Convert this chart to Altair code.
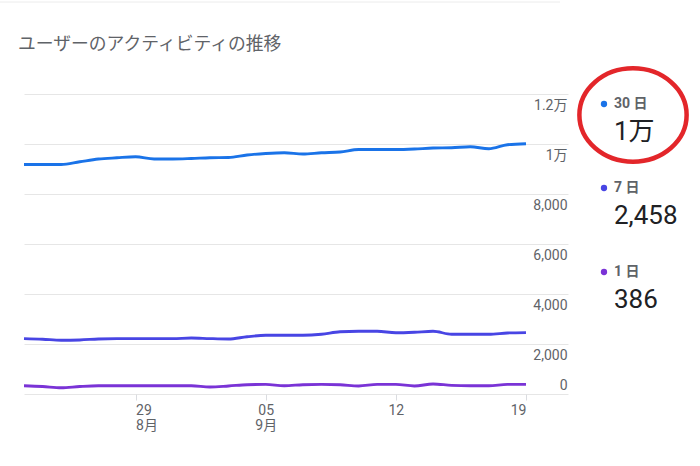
import altair as alt
import pandas as pd

# ---- data ----
dates = (["08-%02d" % d for d in range(23, 32)] + ["09-%02d" % d for d in range(1, 20)])
users_30d = [9180, 9180, 9180, 9290, 9400, 9450, 9490, 9400, 9400, 9420, 9450, 9460, 9560, 9620,
             9650, 9600, 9650, 9680, 9780, 9780, 9780, 9800, 9840, 9850, 9890, 9810, 9970, 10010]
users_7d = [2215, 2190, 2150, 2160, 2200, 2215, 2215, 2215, 2215, 2240, 2215, 2200, 2290, 2350,
            2350, 2350, 2390, 2490, 2510, 2510, 2450, 2470, 2510, 2390, 2390, 2390, 2440, 2458]
users_1d = [330, 300, 250, 300, 330, 330, 330, 330, 330, 330, 280, 320, 370, 385,
            330, 370, 385, 370, 320, 385, 385, 320, 400, 345, 330, 330, 385, 386]

series_names = ["30 日", "7 日", "1 日"]
series_colors = ["#1a73e8", "#4845e4", "#7a33d6"]
latest_values = ["1万", "2,458", "386"]

tick_dates = ["08-29", "09-05", "09-12", "09-19"]
tick_days = ["29", "05", "12", "19"]
tick_months = ["8月", "9月", "", ""]

y_ticks = [0, 2000, 4000, 6000, 8000, 10000, 12000]

title_text = ["ユーザーのアクティビティの推移"]

# ---- tables ----
rows = []
for name, vals in zip(series_names, [users_30d, users_7d, users_1d]):
    for i, (d, v) in enumerate(zip(dates, vals)):
        rows.append({"day": i, "date": d, "series": name, "users": v})
df = pd.DataFrame(rows)

legend_df = pd.DataFrame({
    "row": list(range(len(series_names))),
    "label": series_names,
    "value": latest_values,
    "color": series_colors,
})

tick_pos = [dates.index(t) for t in tick_dates]
parts = []
for p, d, m in zip(tick_pos, tick_days, tick_months):
    lab = f"['{d}', '{m}']" if m else f"'{d}'"
    parts.append(f"datum.value == {p} ? {lab} : ")
x_label_expr = "".join(parts) + "''"

FONT = "Roboto, 'Noto Sans CJK JP', sans-serif"
GRAY = "#5f6368"

x_enc = alt.X(
    "day:Q",
    scale=alt.Scale(domain=[0, 29.26], nice=False, zero=False),
    axis=alt.Axis(
        values=tick_pos, labelExpr=x_label_expr, grid=False, domain=False,
        ticks=True, tickSize=6, tickColor="#dadce0", tickWidth=1,
        labelPadding=3, labelFont=FONT, labelFontSize=14, labelColor=GRAY,
        labelLineHeight=15, labelBaseline="top",
        labelAlign={"condition": [
            {"test": f"datum.value == {tick_pos[0]}", "value": "left"},
            {"test": f"datum.value == {tick_pos[-1]}", "value": "right"},
        ], "value": "center"},
        title=None,
    ),
)

y_enc = alt.Y(
    "users:Q",
    scale=alt.Scale(domain=[0, 12000], nice=False),
    axis=alt.Axis(
        orient="right", values=y_ticks, domain=False, ticks=False, grid=True,
        gridColor="#e6e6e6", gridWidth=1,
        labelExpr="datum.value >= 10000 ? (datum.value / 10000) + '万' : format(datum.value, ',')",
        labelAlign="right", labelPadding=-1, labelBaseline="middle",
        labelOffset={"condition": {"test": "datum.value == 0", "value": -9}, "value": 11},
        labelFont=FONT, labelFontSize=14, labelColor=GRAY, title=None,
    ),
)

lines = alt.Chart(df).mark_line(strokeWidth=2.8, interpolate="monotone").encode(
    x=x_enc,
    y=y_enc,
    color=alt.Color("series:N", scale=alt.Scale(domain=series_names, range=series_colors), legend=None),
    detail="series:N",
)

leg_y = alt.Y("row:Q", scale=alt.Scale(domain=[0, 2], range=[10, 178]), axis=None)

dots = alt.Chart(legend_df).mark_circle(size=40, opacity=1).encode(
    x=alt.value(580), y=leg_y, color=alt.Color("color:N", scale=None))

labels = alt.Chart(legend_df).mark_text(
    align="left", baseline="middle", font=FONT, fontSize=14, fontWeight="bold", color=GRAY
).encode(x=alt.value(590), y=leg_y, text="label:N")

values = alt.Chart(legend_df).mark_text(
    align="left", baseline="alphabetic", dy=36, font=FONT, fontSize=26, color="#202124"
).encode(x=alt.value(590), y=leg_y, text="value:N")

one = pd.DataFrame({"a": [0]})
title_df = pd.DataFrame({"t": title_text})
ellipse_path = "M -1 0 A 1 0.87 0 1 0 1 0 A 1 0.87 0 1 0 -1 0 Z"
ellipse = alt.Chart(one).mark_point(
    shape=ellipse_path, size=11500, filled=False, stroke="#e3262a", strokeWidth=4.5, opacity=1
).encode(x=alt.value(609), y=alt.value(21))

top_line = alt.Chart(one).mark_rule(color="#ececec", strokeWidth=1).encode(
    x=alt.value(-24), x2=alt.value(536), y=alt.value(-92))

title = alt.Chart(title_df).mark_text(
    align="left", baseline="alphabetic", font="'Noto Sans CJK JP', sans-serif",
    fontSize=17.8, fontWeight="normal", color=GRAY
).encode(x=alt.value(-6), y=alt.value(-44), text="t:N")

chart = alt.layer(lines, top_line, title, dots, labels, values, ellipse).resolve_scale(
    y="independent"
).properties(
    width=544, height=300,
    padding={"left": 24, "top": 94, "right": 132, "bottom": 72},
    autosize="none",
).configure(background="white").configure_view(stroke="transparent")

chart.save("out.html", embed_options={"renderer": "svg", "actions": False})
